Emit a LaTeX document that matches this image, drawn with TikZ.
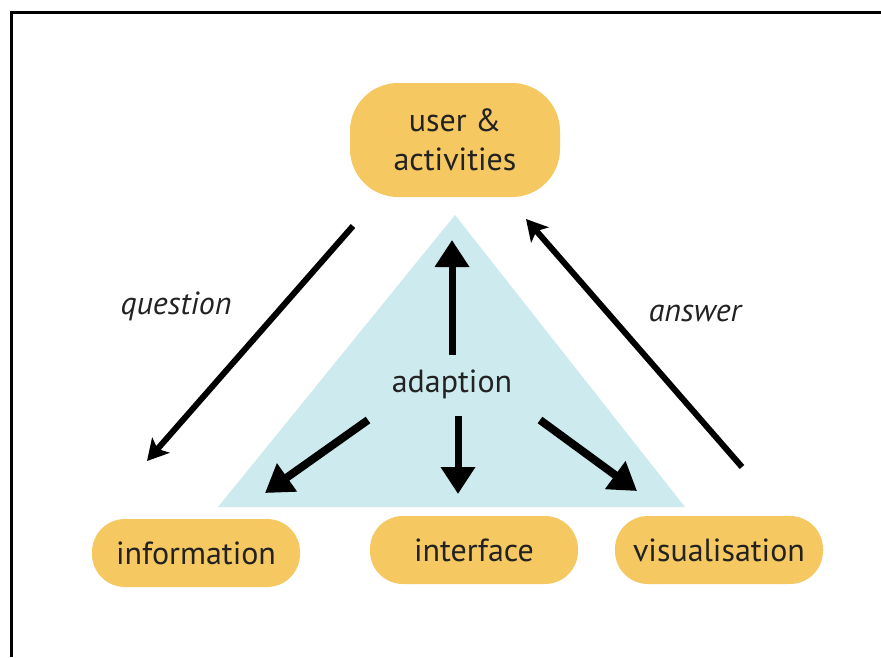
\documentclass[tikz,border=0pt]{standalone}
\usepackage{fontspec}
\setmainfont{PT Sans}
\usetikzlibrary{arrows.meta}
\definecolor{boxorange}{HTML}{F5C862}
\definecolor{adaptblue}{HTML}{CDEBEE}
\definecolor{inktext}{HTML}{222222}
\tikzset{
  item/.style={fill=boxorange, rounded corners=33pt, minimum width=208pt,
    minimum height=68pt, inner sep=0pt, text=inktext,
    font=\fontsize{32}{39}\selectfont},
  flow/.style={line width=8pt, -{Triangle[length=27pt,width=33pt]}},
  loop/.style={line width=6pt, -{Stealth[length=21pt,width=23pt,inset=5pt]}},
  tag/.style={font=\fontsize{32}{36}\selectfont\itshape, text=inktext},
}
\begin{document}
\begin{tikzpicture}[x=1pt,y=-1pt]
  \useasboundingbox (0,0) rectangle (881,657);
  \fill[white] (0,0) rectangle (881,657);
  \draw[line width=3pt] (11,657) -- (11,12) -- (881,12);
  % triangle
  \fill[adaptblue] (455,215) -- (218,507) -- (685,507) -- cycle;
  \node[item, rounded corners=48pt, minimum width=210pt, minimum height=114pt,
    align=center] (user) at (455,140) {user \&\\activities};
  \node[item] (info) at (196,553) {information};
  \node[item] (iface) at (474,550) {interface};
  \node[item] (vis) at (719,550) {visualisation};
  \node[text=inktext, font=\fontsize{32}{36}\selectfont] (adapt) at (452,384) {adaption};
  % adaption arrows
  \draw[flow, line width=7pt] (452,355) -- (452,240);
  \draw[flow] (368,420) -- (265,493);
  \draw[flow, line width=7pt] (458,416) -- (458,494);
  \draw[flow] (540,420) -- (637,491);
  % question and answer
  \coordinate (qs) at (353,226);
  \coordinate (qe) at (147,461);
  \coordinate (as) at (742,467);
  \coordinate (ae) at (526,219);
  \draw[loop] (qs) -- (qe);
  \draw[loop] (as) -- (ae);
  \node[tag] (q) at (176,306) {question};
  \node[tag] (a) at (695,313) {answer};
\end{tikzpicture}
\end{document}
